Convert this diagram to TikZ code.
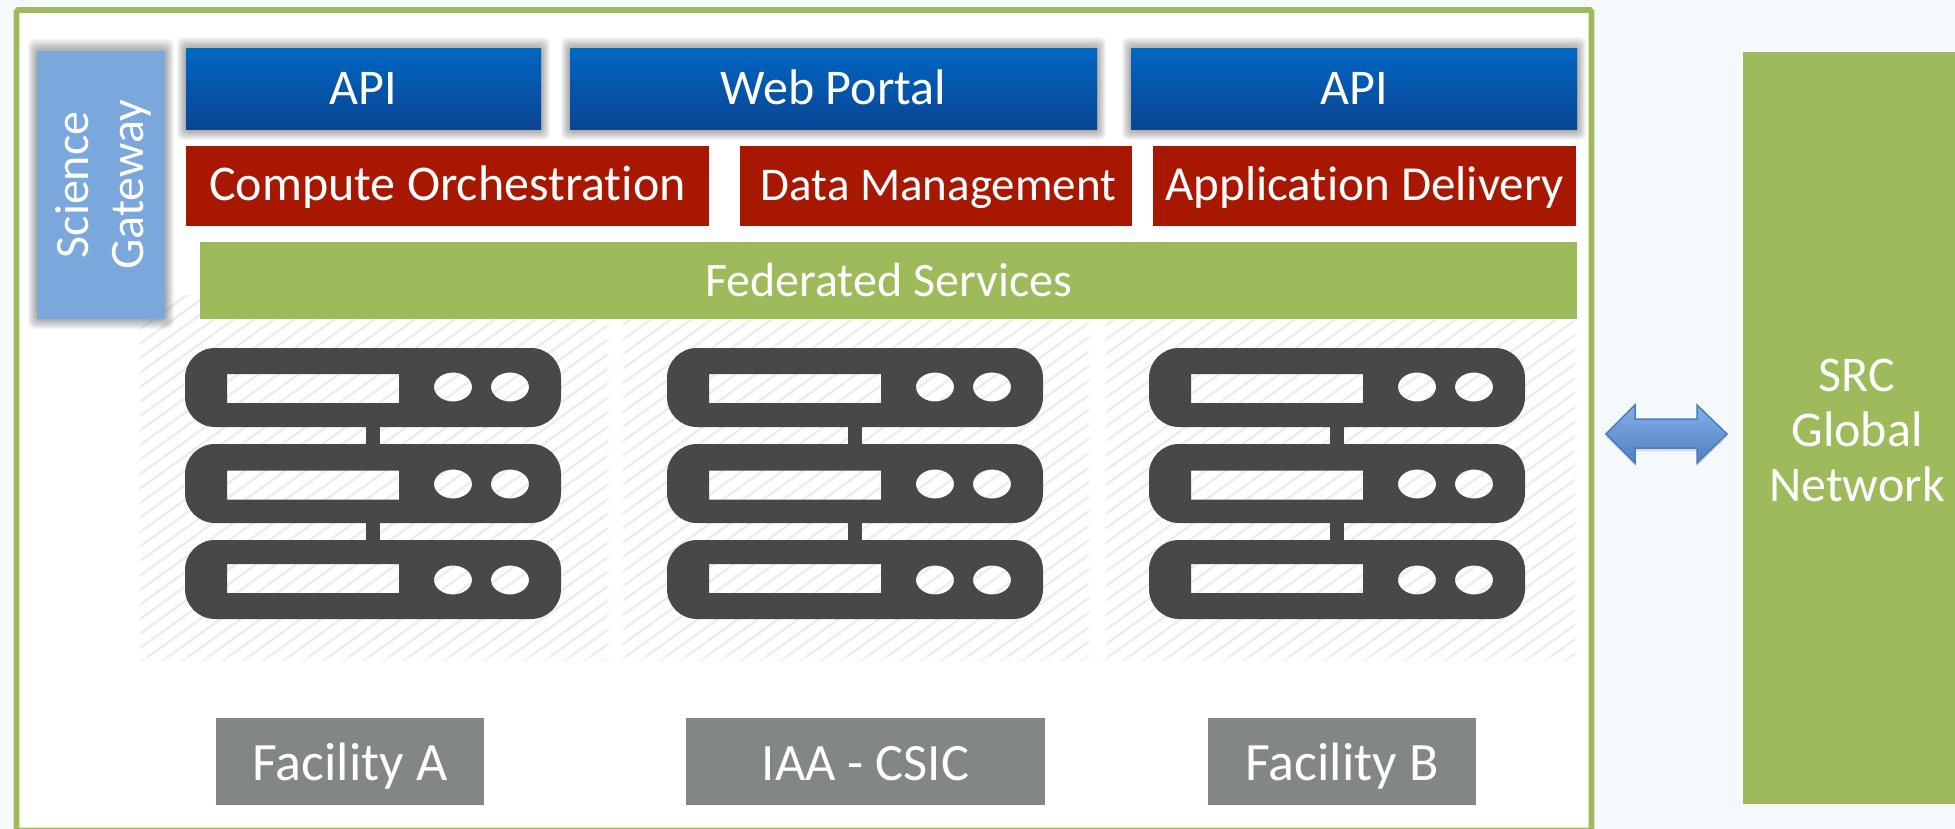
\documentclass[tikz,border=0pt]{standalone}
\usepackage{fontspec}
\setmainfont[Ligatures=NoCommon]{Carlito}
\usetikzlibrary{fadings}
\definecolor{pagebg}{HTML}{F5F8FC}
\definecolor{leaf}{HTML}{9DBB5B}
\definecolor{sky}{HTML}{7AA7DC}
\definecolor{bluetop}{HTML}{0066C2}
\definecolor{bluebot}{HTML}{0A4492}
\definecolor{brick}{HTML}{A81800}
\definecolor{iron}{HTML}{484848}
\definecolor{slate}{HTML}{828785}
\definecolor{hatchc}{HTML}{EDEDED}
\definecolor{arrowedge}{HTML}{4A7EBB}
\definecolor{arrowtop}{HTML}{85AEEC}
\definecolor{arrowbot}{HTML}{4F81BD}
\newcommand{\softshadow}[4]{%
  \foreach \s in {0,...,9}{\fill[black,opacity=0.036,rounded corners=6pt]
    ({#1-(10-\s)*0.9},{#2-(10-\s)*1.2}) rectangle ({#3+(10-\s)*0.9},{#4+(10-\s)*1.0});}}
\newcommand{\hatchpanel}[4]{%
  \begin{scope}
    \clip (#1,#2) rectangle (#3,#4);
    \foreach \k in {0,...,60}{
      \draw[hatchc,line width=2.4pt] ({#1-10},{#2+\k*14.5}) -- ++(560,-404);}
    \fill[white,path fading=east] (#1,#2) rectangle ({#1+5},#4);
    \fill[white,path fading=west] ({#3-5},#2) rectangle (#3,#4);
    \fill[white,path fading=north] (#1,{#4-5}) rectangle (#3,#4);
  \end{scope}}
\newcommand{\serverrack}[1]{%
  \begin{scope}[xshift=#1pt]
    \fill[iron] (366,426) rectangle (380,445);
    \fill[iron] (366,522) rectangle (380,541);
    \foreach \t/\sl/\cy in {348/374/387,444/470.5/484,540/564/580}{
      \fill[iron,even odd rule,rounded corners=30pt] (185,\t) rectangle (561,\t+79)
        [sharp corners] (227,\sl) rectangle (399,\sl+29)
        (453,\cy) ellipse [x radius=19,y radius=14.5]
        (510,\cy) ellipse [x radius=19,y radius=14.5];}
  \end{scope}}
\tikzset{
  fs/.style={font=\fontsize{#1}{55}\selectfont},
  lbl/.style={inner sep=0pt,text=white,fs=50},
  bluebox/.style={lbl,top color=bluetop,bottom color=bluebot,minimum height=81pt,text height=40pt,text depth=9pt},
  redbox/.style={lbl,fill=brick,minimum height=80pt,text height=38.4pt,text depth=9pt},
  greenbox/.style={lbl,fill=leaf,text height=41pt,text depth=9pt},
  greybox/.style={lbl,fill=slate,minimum height=87pt,text height=46pt,text depth=9pt},
}
\begin{document}
\begin{tikzpicture}[x=1pt,y=-1pt]
\useasboundingbox (0,0) rectangle (1955,829);
\fill[pagebg] (0,0) rectangle (1955,829);
\filldraw[draw=leaf,fill=white,line width=5.6pt,rounded corners=1.5pt] (16.5,10) rectangle (1591.5,830.5);
% hatched panels
\hatchpanel{137}{295}{610}{660}
\hatchpanel{620}{320}{1091}{660}
\hatchpanel{1103}{320}{1577}{660}
% servers
\serverrack{0}
\serverrack{482}
\serverrack{964}
% shadows
\softshadow{37}{51}{165}{319}
\softshadow{186}{49}{541}{130}
\softshadow{570}{49}{1097}{130}
\softshadow{1131}{49}{1577}{130}
% gateway
\node[fill=sky,minimum width=128pt,minimum height=268pt,inner sep=0pt] (gw) at (101,185) {};
\node[text=white,rotate=90,inner sep=0pt,align=center,fs=48] (gwt) at (103.5,185) {Science\\Gateway};
% blue row
\node[bluebox,minimum width=355pt] (api1) at (363.5,89.5) {API};
\node[bluebox,minimum width=527pt] (web) at (833.5,89.5) {Web Portal};
\node[bluebox,minimum width=446pt] (api2) at (1354,89.5) {API};
% red row
\node[redbox,minimum width=523pt] (comp) at (447.5,186) {Compute Orchestration};
\node[redbox,minimum width=392pt,fs=47] (data) at (936,186) {\hspace*{5pt}Data Management};
\node[redbox,minimum width=423pt,fs=49] (app) at (1364.5,186) {Application Delivery};
% federated
\node[greenbox,minimum width=1377pt,minimum height=77pt,fs=48] (fed) at (888.5,280.5) {Federated Services};
% facilities
\node[greybox,minimum width=268pt,fs=54] (fa) at (350,761.5) {Facility A};
\node[greybox,minimum width=359pt,fs=52.5] (iaa) at (865.5,761.5) {IAA - CSIC};
\node[greybox,minimum width=268pt,fs=54] (fb) at (1342,761.5) {Facility B};
% SRC
\node[fill=leaf,minimum width=212pt,minimum height=752pt,inner sep=0pt] (src) at (1849,428) {};
\node[text=white,align=center,inner sep=0pt,fs=50] (srct) at (1857,430) {SRC\\Global\\Network};
% arrow
\fill[black,opacity=0.12] (1606,437) -- (1635,408) -- (1635,425) -- (1697,425) -- (1697,408) -- (1727,437) -- (1697,466) -- (1697,451) -- (1635,451) -- (1635,466) -- cycle;
\draw[draw=arrowedge,top color=arrowtop,bottom color=arrowbot,line width=1.5pt,line join=miter] (1606,434) -- (1635,405) -- (1635,419) -- (1697,419) -- (1697,405) -- (1727,434) -- (1697,463) -- (1697,448) -- (1635,448) -- (1635,463) -- cycle;
\end{tikzpicture}
\end{document}
